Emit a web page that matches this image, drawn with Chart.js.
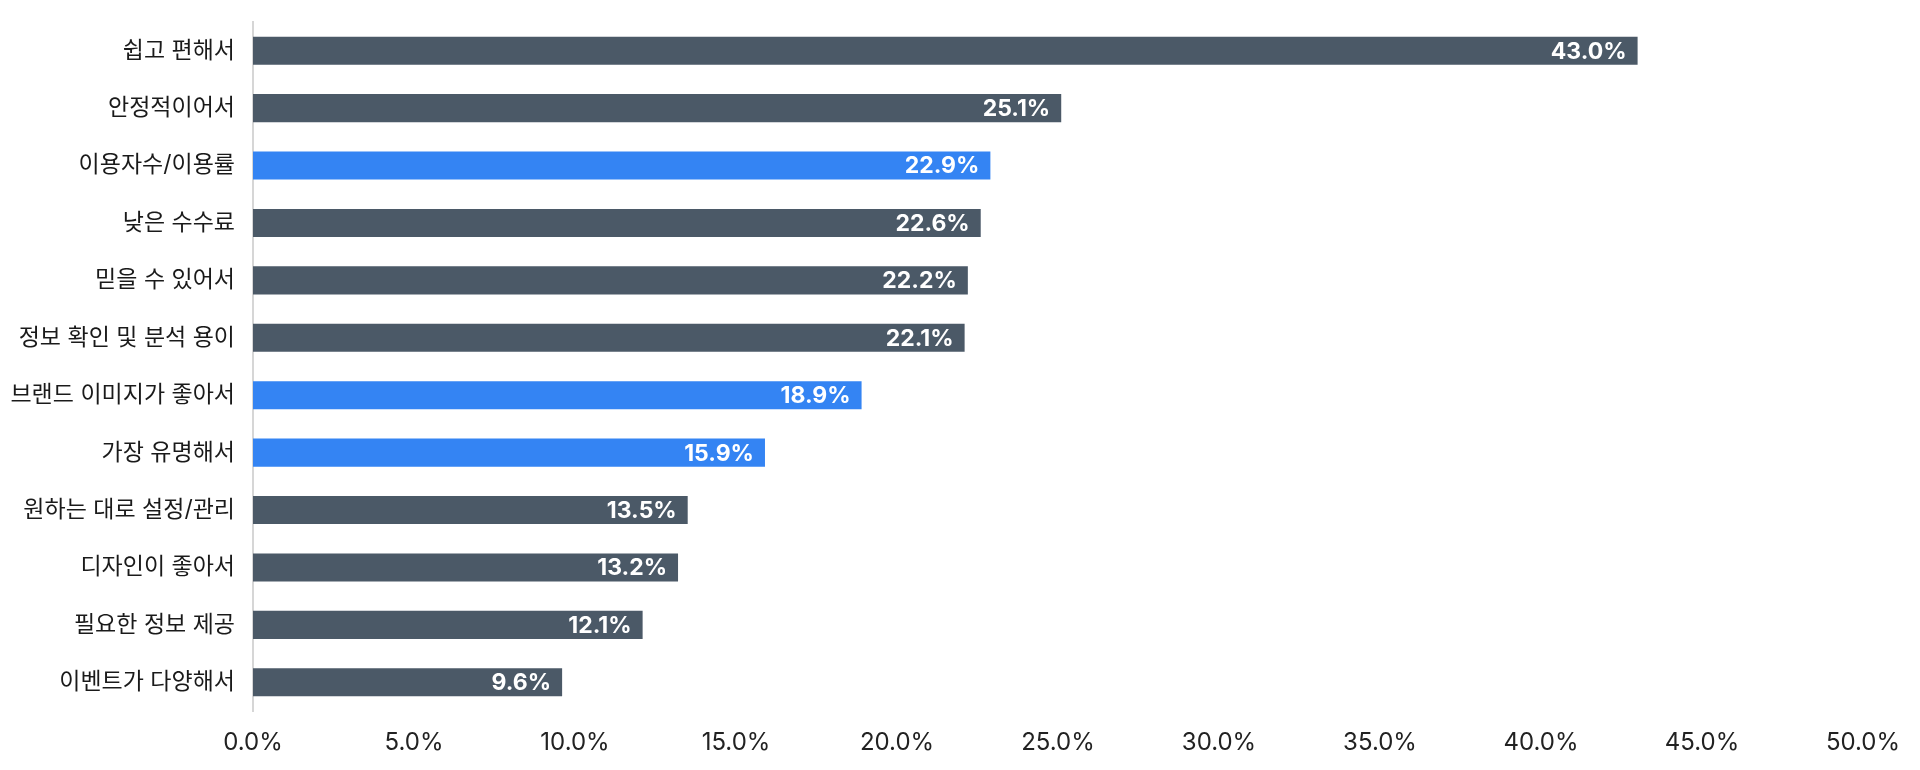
<!DOCTYPE html>
<html>
<head>
<meta charset="utf-8">
<script src="https://cdn.jsdelivr.net/npm/chart.js@4.4.0/dist/chart.umd.min.js"></script>
<style>
  html, body { margin: 0; padding: 0; background: #fff; }
  #wrap { width: 1920px; height: 770px; }
</style>
</head>
<body>
<div id="wrap"><canvas id="chart"></canvas></div>
<script>
// Data
const categories = [
  '쉽고 편해서', '안정적이어서', '이용자수/이용률', '낮은 수수료', '믿을 수 있어서',
  '정보 확인 및 분석 용이', '브랜드 이미지가 좋아서', '가장 유명해서', '원하는 대로 설정/관리',
  '디자인이 좋아서', '필요한 정보 제공', '이벤트가 다양해서'
];
const values = [43.0, 25.1, 22.9, 22.6, 22.2, 22.1, 18.9, 15.9, 13.5, 13.2, 12.1, 9.6];
const highlighted = ['이용자수/이용률', '브랜드 이미지가 좋아서', '가장 유명해서'];
const xTicks = [0, 5, 10, 15, 20, 25, 30, 35, 40, 45, 50];

const darkColor = '#4b5967';
const blueColor = '#3484f3';
const fontFamily = 'Inter, "Noto Sans CJK KR", sans-serif';

// Value labels drawn inside the bar end
const valueLabels = {
  id: 'valueLabels',
  afterDatasetsDraw(chart) {
    const ctx = chart.ctx;
    const meta = chart.getDatasetMeta(0);
    ctx.save();
    ctx.font = 'bold 23px ' + fontFamily;
    ctx.fillStyle = '#ffffff';
    ctx.textAlign = 'right';
    ctx.textBaseline = 'middle';
    meta.data.forEach((bar, i) => {
      ctx.fillText(values[i].toFixed(1) + '%', bar.x - 11, bar.y + 1);
    });
    ctx.restore();
  }
};

const ctx = document.getElementById('chart').getContext('2d');
new Chart(ctx, {
  type: 'bar',
  data: {
    labels: categories,
    datasets: [{
      data: values,
      backgroundColor: categories.map(c => highlighted.includes(c) ? blueColor : darkColor),
      barPercentage: 0.49,
      categoryPercentage: 1.0
    }]
  },
  options: {
    indexAxis: 'y',
    responsive: true,
    maintainAspectRatio: false,
    animation: false,
    layout: { padding: { top: 22, right: 57, bottom: 0, left: 0 } },
    plugins: {
      legend: { display: false },
      tooltip: { enabled: false }
    },
    scales: {
      x: {
        min: 0,
        max: 50,
        afterBuildTicks: scale => { scale.ticks = xTicks.map(v => ({ value: v })); },
        afterFit: scale => { scale.height = 59; },
        grid: { display: false, drawTicks: false },
        border: { display: false },
        ticks: {
          padding: 17,
          color: '#222',
          font: { family: fontFamily, size: 24 },
          callback: v => v.toFixed(1) + '%'
        }
      },
      y: {
        afterFit: scale => {
          scale.width = 253;
          scale.paddingTop = 0;
          scale.paddingBottom = 0;
        },
        grid: { display: false, drawTicks: false },
        border: { display: true, color: '#d6d6d6', width: 2 },
        ticks: {
          padding: 18,
          color: '#1a1a1a',
          font: { family: fontFamily, size: 23 }
        }
      }
    }
  },
  plugins: [valueLabels]
});
</script>
</body>
</html>
